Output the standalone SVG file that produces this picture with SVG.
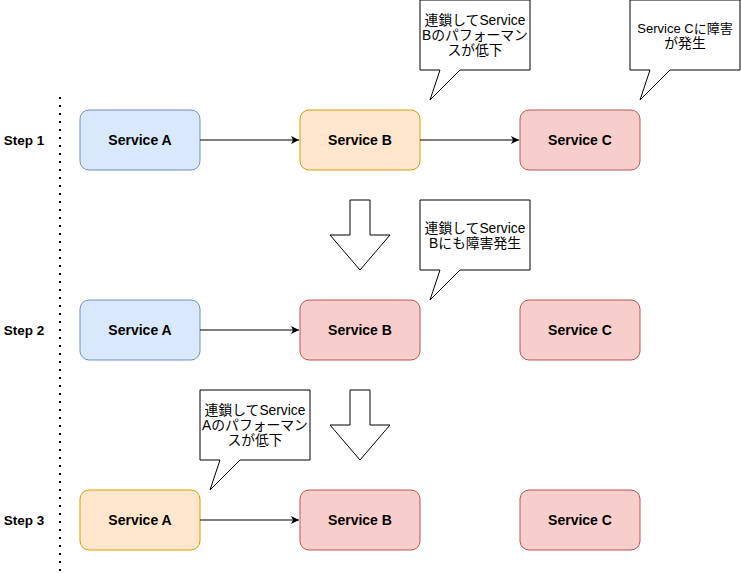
<svg xmlns="http://www.w3.org/2000/svg" width="741" height="573" viewBox="0 0 741 573">
<style>
text{font-family:"Liberation Sans","Noto Sans CJK JP",Arial,sans-serif;fill:#000;dominant-baseline:central;text-anchor:middle}
.lbl{font-size:14px;font-weight:bold}
.step{font-size:13.5px;font-weight:bold}
.note{font-size:13.8px}
.note2{font-size:13px}
.blue{fill:#dae8fc;stroke:#6c8ebf;stroke-width:1}
.orange{fill:#ffe6cc;stroke:#d79b00;stroke-width:1}
.red{fill:#f8cecc;stroke:#b85450;stroke-width:1}
.callout{fill:#fff;stroke:#000;stroke-width:1}
.big{fill:#fff;stroke:#000;stroke-width:1}
.edge{fill:none;stroke:#000;stroke-width:1}
</style>
<defs>
<marker id="arr" markerWidth="10" markerHeight="10" refX="8" refY="4" orient="auto" markerUnits="userSpaceOnUse">
<path d="M0,0 L8,4 L0,8 L2,4 Z" fill="#000"/>
</marker>
</defs>
<rect width="741" height="573" fill="#fff"/>
<g id="divider">
<line x1="60" y1="97" x2="60" y2="573" stroke="#000" stroke-width="2" stroke-dasharray="2 6"/>
</g>
<g id="steps">
<text class="step" x="24" y="140">Step 1</text>
<text class="step" x="24" y="330">Step 2</text>
<text class="step" x="24" y="520">Step 3</text>
</g>
<g id="s1-a"><rect class="blue" x="80" y="110" width="120" height="60" rx="9"/><text class="lbl" x="140" y="140">Service A</text></g>
<g id="s1-b"><rect class="orange" x="300" y="110" width="120" height="60" rx="9"/><text class="lbl" x="360" y="140">Service B</text></g>
<g id="s1-c"><rect class="red" x="520" y="110" width="120" height="60" rx="9"/><text class="lbl" x="580" y="140">Service C</text></g>
<g id="s2-a"><rect class="blue" x="80" y="300" width="120" height="60" rx="9"/><text class="lbl" x="140" y="330">Service A</text></g>
<g id="s2-b"><rect class="red" x="300" y="300" width="120" height="60" rx="9"/><text class="lbl" x="360" y="330">Service B</text></g>
<g id="s2-c"><rect class="red" x="520" y="300" width="120" height="60" rx="9"/><text class="lbl" x="580" y="330">Service C</text></g>
<g id="s3-a"><rect class="orange" x="80" y="490" width="120" height="60" rx="9"/><text class="lbl" x="140" y="520">Service A</text></g>
<g id="s3-b"><rect class="red" x="300" y="490" width="120" height="60" rx="9"/><text class="lbl" x="360" y="520">Service B</text></g>
<g id="s3-c"><rect class="red" x="520" y="490" width="120" height="60" rx="9"/><text class="lbl" x="580" y="520">Service C</text></g>
<g id="callout-1">
<path class="callout" d="M420,0 L530,0 L530,70 L460,70 L430,100 L440,70 L420,70 Z"/>
<text class="note" x="475" y="20">連鎖してService</text>
<text class="note" x="475" y="35">Bのパフォーマン</text>
<text class="note" x="475" y="50">スが低下</text>
</g>
<g id="callout-2">
<path class="callout" d="M630,0 L740,0 L740,70 L670,70 L640,100 L650,70 L630,70 Z"/>
<text class="note2" x="685" y="28">Service Cに障害</text>
<text class="note" x="685" y="43">が発生</text>
</g>
<g id="callout-3">
<path class="callout" d="M420,200 L530,200 L530,270 L460,270 L430,300 L440,270 L420,270 Z"/>
<text class="note" x="475" y="228">連鎖してService</text>
<text class="note" x="475" y="243">Bにも障害発生</text>
</g>
<g id="callout-4">
<path class="callout" d="M200,390 L310,390 L310,460 L240,460 L210,490 L220,460 L200,460 Z"/>
<text class="note" x="255" y="410">連鎖してService</text>
<text class="note" x="255" y="425">Aのパフォーマン</text>
<text class="note" x="255" y="440">スが低下</text>
</g>
<g id="transition-1">
<path class="big" d="M350,200 L370,200 L370,235 L390,235 L360,270 L330,235 L350,235 Z"/>
</g>
<g id="transition-2">
<path class="big" d="M350,390 L370,390 L370,425 L390,425 L360,460 L330,425 L350,425 Z"/>
</g>
<g id="connectors">
<line class="edge" x1="200" y1="140" x2="299" y2="140" marker-end="url(#arr)"/>
<line class="edge" x1="420" y1="140" x2="519" y2="140" marker-end="url(#arr)"/>
<line class="edge" x1="200" y1="330" x2="299" y2="330" marker-end="url(#arr)"/>
<line class="edge" x1="200" y1="520" x2="299" y2="520" marker-end="url(#arr)"/>
</g>
</svg>
